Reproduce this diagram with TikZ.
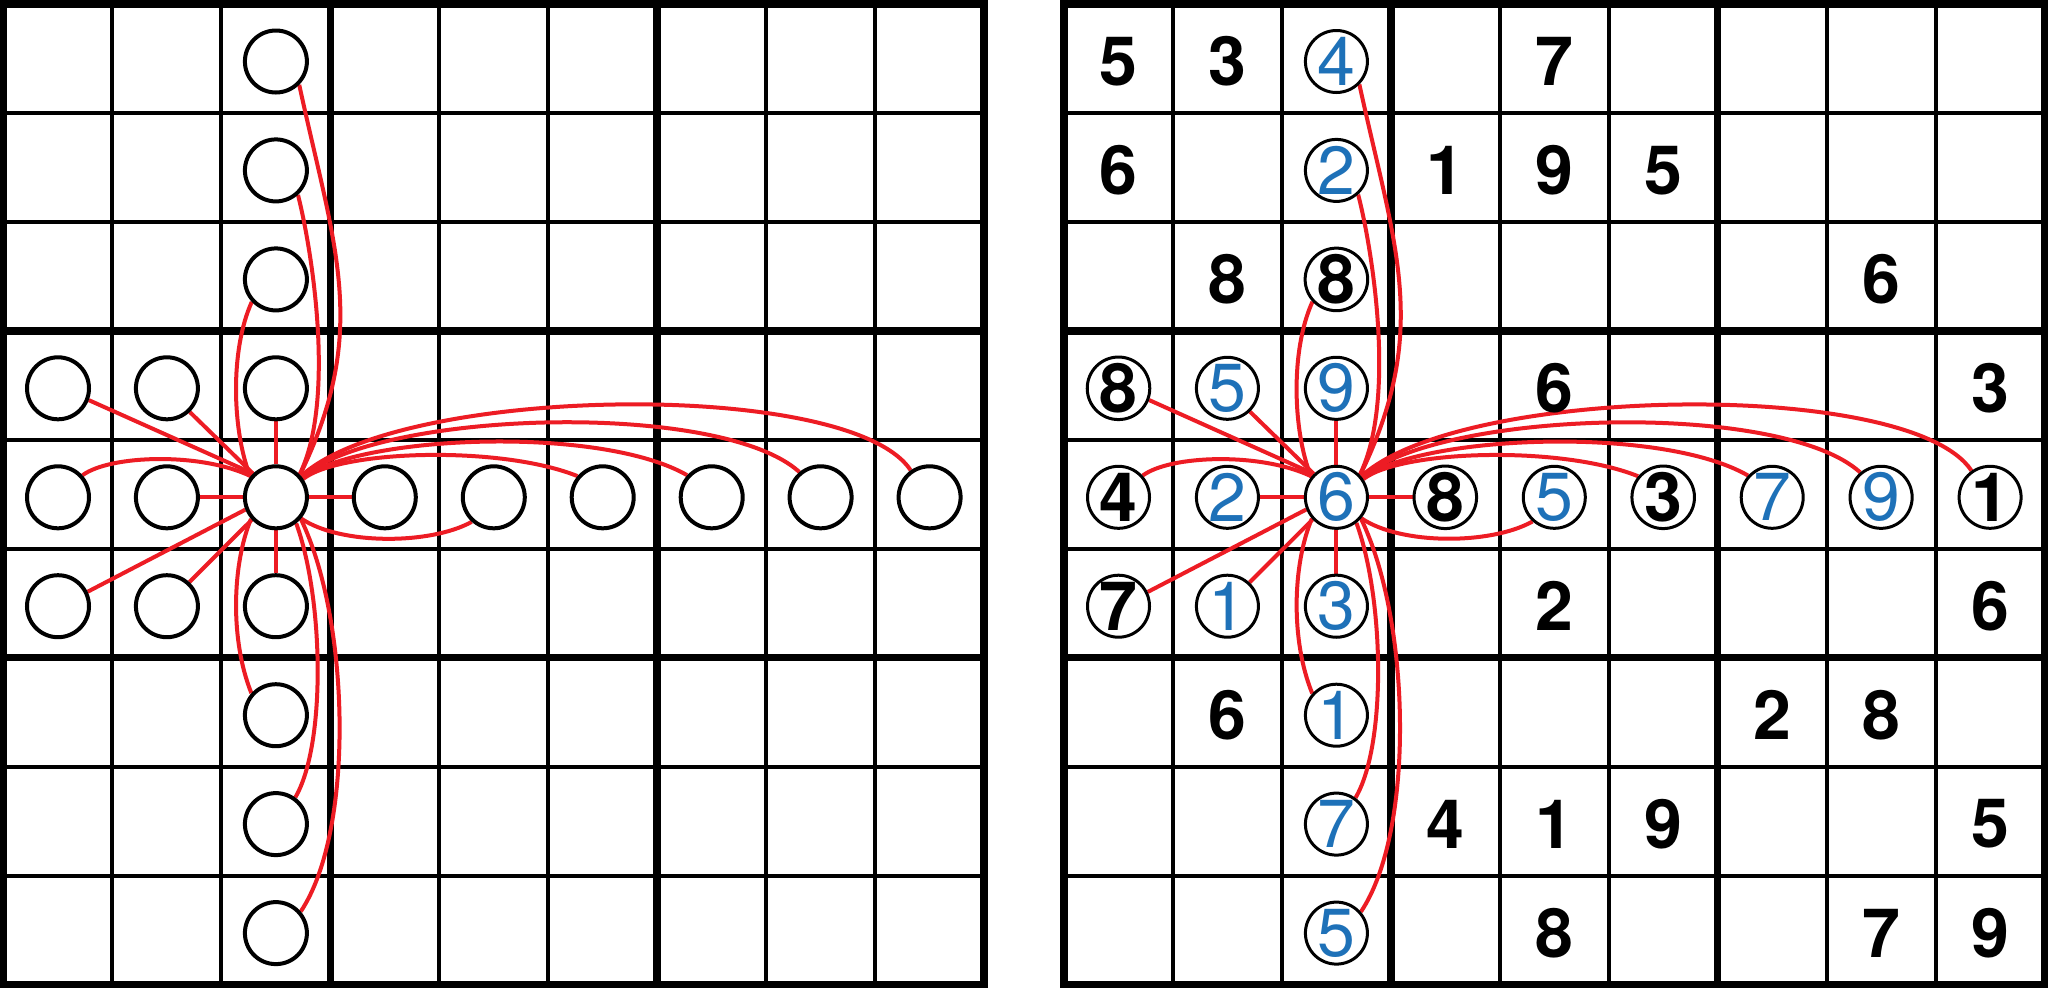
\documentclass[tikz,border=0pt]{standalone}
\usepackage{fontspec}
\setmainfont{TeX Gyre Heros}
\definecolor{sred}{RGB}{237,28,36}
\definecolor{sblue}{RGB}{30,113,184}
\pgfdeclarelayer{gridlayer}
\pgfdeclarelayer{edgelayer}
\pgfsetlayers{gridlayer,edgelayer,main}
\tikzset{
  thingrid/.style={line width=4pt, draw=black},
  thickgrid/.style={line width=7.5pt, draw=black},
  edge/.style={draw=sred, line width=4pt},
  lcirc/.style={circle, draw=black, line width=4pt, fill=white, minimum size=62pt, inner sep=0pt},
  rcirc/.style={lcirc, line width=3pt},
  given/.style={font=\fontsize{68}{68}\selectfont\bfseries, text=black},
  solved/.style={font=\fontsize{68}{68}\selectfont, text=sblue},
  digit/.style={inner sep=0pt}
}
\newcommand\sdkgrid{%
  \begin{pgfonlayer}{gridlayer}
  \foreach \i in {1,2,4,5,7,8}{%
    \draw[thingrid] ({3.5+108.95*\i},4) -- ++(0,980.55);
    \draw[thingrid] (3.5,{4+108.95*\i}) -- ++(980.55,0);
  }
  \foreach \i in {3,6}{%
    \draw[thickgrid] ({3.5+108.95*\i},4) -- ++(0,980.55);
    \draw[thickgrid] (3.5,{4+108.95*\i}) -- ++(980.55,0);
  }
  \draw[thickgrid] (3.5,4) rectangle ++(980.55,980.55);
  \end{pgfonlayer}}
\newcommand\sdkedges{%
  \begin{pgfonlayer}{edgelayer}
  % box, straight
  \draw[edge] (c30.-21) -- (c42.134);
  \draw[edge] (c31.-46) -- (c42.134);
  \draw[edge] (c41.0) -- (c42.180);
  \draw[edge] (c50.26) -- (c42.202);
  \draw[edge] (c51.47) -- (c42.223);
  \draw[edge] (c32.-90) -- (c42.90);
  \draw[edge] (c52.90) -- (c42.-90);
  \draw[edge] (c43.180) -- (c42.0);
  % box, curved
  \draw[edge] (c40.42) .. controls (110,455) and (200,452) .. (c42.140);
  % column
  \draw[edge] (c02.-45) .. controls (335,250) and (370,330) .. (c42.43);
  \draw[edge] (c12.-48) .. controls (312,250) and (336,400) .. (c42.44);
  \draw[edge] (c22.223) .. controls (230,350) and (232,430) .. (c42.141);
  \draw[edge] (c62.138) .. controls (230,640) and (232,565) .. (c42.221);
  \draw[edge] (c72.54) .. controls (326,745) and (324,600) .. (c42.-52);
  \draw[edge] (c82.41) .. controls (355,830) and (350,620) .. (c42.-41);
  % row
  \draw[edge] (c42.-40) .. controls (340,545) and (430,545) .. (c44.228);
  \draw[edge] (c42.34) .. controls (340,450) and (500,445) .. (c45.140);
  \draw[edge] (c42.36) .. controls (360,435) and (600,425) .. (c46.138);
  \draw[edge] (c42.38) .. controls (380,410) and (720,400) .. (c47.130);
  \draw[edge] (c42.40) .. controls (400,385) and (850,378) .. (c48.125);
  \end{pgfonlayer}}
\begin{document}
\begin{tikzpicture}[x=1pt, y=-1pt]
\begin{pgfonlayer}{gridlayer}
\fill[white] (0,0) rectangle (2048,989);
\end{pgfonlayer}
\path[use as bounding box] (0,0) rectangle (2048,989);
% ---------------- left grid ----------------
\begin{scope}[name prefix=L-]
  \sdkgrid
  \node[lcirc] (c02) at (275.9,61.5) {};
  \node[lcirc] (c12) at (275.9,170.4) {};
  \node[lcirc] (c22) at (275.9,279.4) {};
  \node[lcirc] (c30) at (58.0,388.3) {};
  \node[lcirc] (c31) at (166.9,388.3) {};
  \node[lcirc] (c32) at (275.9,388.3) {};
  \node[lcirc] (c40) at (58.0,497.3) {};
  \node[lcirc] (c41) at (166.9,497.3) {};
  \node[lcirc] (c42) at (275.9,497.3) {};
  \node[lcirc] (c43) at (384.8,497.3) {};
  \node[lcirc] (c44) at (493.8,497.3) {};
  \node[lcirc] (c45) at (602.7,497.3) {};
  \node[lcirc] (c46) at (711.7,497.3) {};
  \node[lcirc] (c47) at (820.6,497.3) {};
  \node[lcirc] (c48) at (929.6,497.3) {};
  \node[lcirc] (c50) at (58.0,606.2) {};
  \node[lcirc] (c51) at (166.9,606.2) {};
  \node[lcirc] (c52) at (275.9,606.2) {};
  \node[lcirc] (c62) at (275.9,715.2) {};
  \node[lcirc] (c72) at (275.9,824.1) {};
  \node[lcirc] (c82) at (275.9,933.1) {};
  \sdkedges
\end{scope}
% ---------------- right grid ----------------
\begin{scope}[shift={(1060.5,0)}, name prefix=R-]
  \sdkgrid
  \node[rcirc, solved] (c02) at (275.9,61.5) {4};
  \node[rcirc, solved] (c12) at (275.9,170.4) {2};
  \node[rcirc, given]  (c22) at (275.9,279.4) {8};
  \node[rcirc, given]  (c30) at (58.0,388.3) {8};
  \node[rcirc, solved] (c31) at (166.9,388.3) {5};
  \node[rcirc, solved] (c32) at (275.9,388.3) {9};
  \node[rcirc, given]  (c40) at (58.0,497.3) {4};
  \node[rcirc, solved] (c41) at (166.9,497.3) {2};
  \node[rcirc, solved] (c42) at (275.9,497.3) {6};
  \node[rcirc, given]  (c43) at (384.8,497.3) {8};
  \node[rcirc, solved] (c44) at (493.8,497.3) {5};
  \node[rcirc, given]  (c45) at (602.7,497.3) {3};
  \node[rcirc, solved] (c46) at (711.7,497.3) {7};
  \node[rcirc, solved] (c47) at (820.6,497.3) {9};
  \node[rcirc, given]  (c48) at (929.6,497.3) {1};
  \node[rcirc, given]  (c50) at (58.0,606.2) {7};
  \node[rcirc, solved] (c51) at (166.9,606.2) {1};
  \node[rcirc, solved] (c52) at (275.9,606.2) {3};
  \node[rcirc, solved] (c62) at (275.9,715.2) {1};
  \node[rcirc, solved] (c72) at (275.9,824.1) {7};
  \node[rcirc, solved] (c82) at (275.9,933.1) {5};
  \sdkedges
  % given digits without circles
  \node[digit, given] (d00) at (58.0,61.5) {5};
  \node[digit, given] (d01) at (166.9,61.5) {3};
  \node[digit, given] (d04) at (493.8,61.5) {7};
  \node[digit, given] (d10) at (58.0,170.4) {6};
  \node[digit, given] (d13) at (384.8,170.4) {1};
  \node[digit, given] (d14) at (493.8,170.4) {9};
  \node[digit, given] (d15) at (602.7,170.4) {5};
  \node[digit, given] (d21) at (166.9,279.4) {8};
  \node[digit, given] (d27) at (820.6,279.4) {6};
  \node[digit, given] (d34) at (493.8,388.3) {6};
  \node[digit, given] (d38) at (929.6,388.3) {3};
  \node[digit, given] (d54) at (493.8,606.2) {2};
  \node[digit, given] (d58) at (929.6,606.2) {6};
  \node[digit, given] (d61) at (166.9,715.2) {6};
  \node[digit, given] (d66) at (711.7,715.2) {2};
  \node[digit, given] (d67) at (820.6,715.2) {8};
  \node[digit, given] (d73) at (384.8,824.1) {4};
  \node[digit, given] (d74) at (493.8,824.1) {1};
  \node[digit, given] (d75) at (602.7,824.1) {9};
  \node[digit, given] (d78) at (929.6,824.1) {5};
  \node[digit, given] (d84) at (493.8,933.1) {8};
  \node[digit, given] (d87) at (820.6,933.1) {7};
  \node[digit, given] (d88) at (929.6,933.1) {9};
\end{scope}
\end{tikzpicture}
\end{document}
